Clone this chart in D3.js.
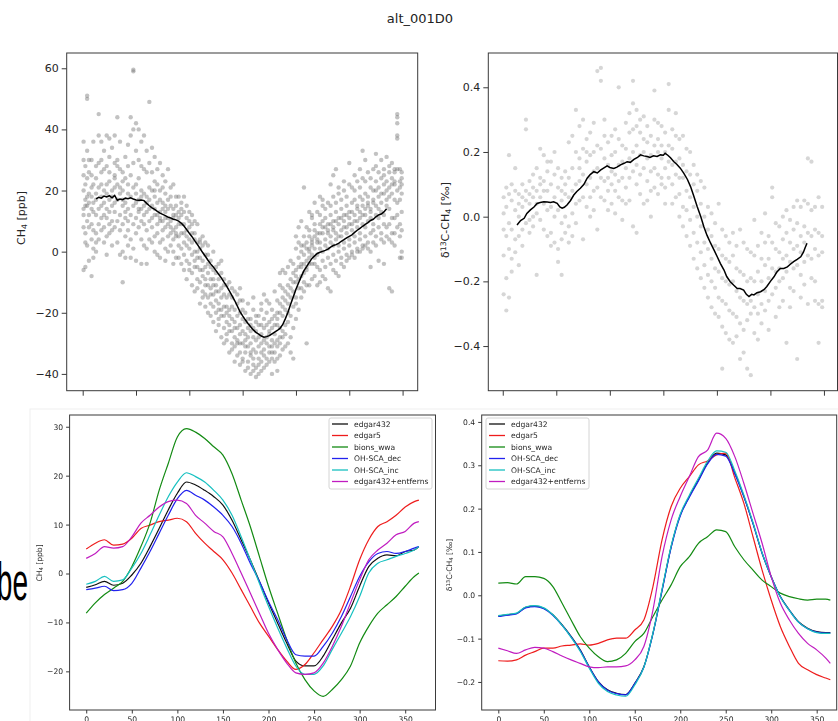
<!DOCTYPE html>
<html><head><meta charset="utf-8">
<script src="https://cdn.jsdelivr.net/npm/d3@7"></script>
<style>
body{margin:0;background:#fff}
svg{display:block}
text{font-family:"DejaVu Sans",sans-serif}
</style>
</head><body>
<svg id="chart" width="838" height="721"></svg>
<script>
// ---------- data ----------
const title = "alt_001D0";

// observed CH4 anomaly at the station: [day, value, value, ...]
const ch4Obs = [
[1,20,14,8,-6,30,36,25,12],[3,17,22,6,3,28,15,-5],[5,51,50,33,18,10,24,2,15],[7,30,26,12,8,-3,19,16],
[10,25,21,14,4,-8,30,18,9],[12,36,16,7,1,22,-2,13],[15,28,17,12,6,24,0,19,3],[18,45,38,21,14,9,29,4],
[21,36,30,18,11,22,15,7,26],[24,33,27,16,8,20,3,12],[27,38,28,19,11,14,22,5,-1],[30,31,23,17,9,13,6,26,37],
[33,34,20,15,7,18,10,2],[36,38,29,21,13,16,8,25,24],[39,44,30,22,17,10,3,28],[42,36,27,19,12,7,-1,21],
[45,26,20,15,9,0,-10,23,17],[48,31,24,16,11,5,-2,13],[51,35,28,19,14,10,2,22,7],[54,44,38,25,18,12,4,-2],
[57,59.5,59,40,29,21,15,9,1],[60,42,33,22,16,11,6,-3,19],[63,40,30,24,17,13,8,14],[66,36,28,20,14,10,4,-4,18],
[69,38,27,19,15,9,2,12],[72,33,26,18,13,7,1,-4,16],[75,49,29,21,14,10,4,17],[78,34,26,20,11,8,3,15],
[81,31,23,18,12,5,0,14,20],[84,27,22,16,9,6,-1,12],[87,29,20,13,10,3,-2,17,11],[90,25,21,14,7,4,10,16],
[93,23,19,11,8,1,13,15,-3],[96,27,17,14,9,5,11,0],[99,21,18,10,6,2,15,8],[102,22,14,11,4,0,12,7,-4],
[105,18,15,8,5,12,6,-2],[108,18,13,9,2,-2,11,5],[111,16,12,6,1,-4,9,14],[114,13,9,6,-1,-6,3,18],
[117,15,7,2,-3,-9,5,11],[120,10,8,1,-4,-6,4,13],[123,12,3,-1,-7,-11,6,9],[126,6,4,-3,-5,-13,0,10],
[129,9,0,-5,-9,-12,-2,3],[132,4,1,-6,-10,-17,3,-2],[135,2,-3,-6,-13,-15,5,-8],[138,3,-5,-9,-11,-18,-1,-14],
[141,-1,-4,-11,-15,-20,-7,2],[144,-3,-9,-12,-14,-21,-5,-17],[147,0,-6,-14,-18,-23,-9,-11],[150,-5,-11,-13,-20,-26,-7,-16],
[153,-4,-13,-17,-22,-24,-9,-19],[156,-7,-12,-19,-21,-28,-15,-3],[159,-9,-14,-21,-25,-30,-11,-18],[162,-11,-18,-20,-27,-29,-15,-23],
[165,-10,-19,-24,-26,-33,-14,-21],[168,-15,-18,-26,-30,-32,-22,-12],[171,-13,-23,-25,-31,-36,-19,-28],[174,-17,-21,-29,-30,-34,-25,-14],
[177,-16,-24,-27,-33,-37,-20,-30,-12],[180,-19,-22,-30,-35,-36,-26,-16],[183,-20,-27,-29,-33,-39,-23,-31],[186,-17,-25,-31,-36,-38,-28,-22],
[189,-22,-26,-30,-34,-40,-24,-33],[192,-19,-28,-32,-37,-39,-25,-35,-15],[195,-23,-26,-33,-38,-41,-29,-21],[198,-21,-28,-31,-35,-40,-24,-37],
[201,-24,-27,-30,-36,-39,-19,-33,-17],[204,-14,-25,-29,-34,-38,-22,-32],[207,-20,-24,-28,-35,-37,-30,-16],[210,-17,-23,-27,-31,-36,-26,-33],
[213,-19,-22,-29,-33,-35,-25,-31,-40],[216,-13,-21,-27,-30,-36,-24,-33],[219,-16,-20,-24,-29,-35,-22,-31,-39],[222,-11,-17,-25,-28,-34,-20,-30,-7],
[225,-12,-15,-21,-28,-32,-18,-26,-6],[228,-7,-13,-19,-27,-31,-16,-24],[231,-5,-11,-17,-23,-30,-14,-20],[234,-3,-9,-15,-21,-28,-12,-33],
[237,-4,-7,-13,-18,-25,-10,-35],[240,1,-6,-10,-17,-22,-8,-15,5],[243,3,-2,-9,-12,-19,-5,8],[246,2,0,-5,-12,-15,-4,-8,10],
[249,5,2,-4,-10,-13,-1,-7,21],[252,8,3,-3,-6,-11,1,-5,-30],[255,7,5,0,-4,-11,1,-2,13],[258,11,4,2,-4,-9,3,-1,12],
[261,9,7,1,-2,-8,5,-4,16],[264,13,6,4,-1,-5,3,-11],[267,12,9,3,1,-6,6,-10,18],[270,15,8,6,0,-3,10,-8,17],
[273,14,11,4,2,-5,8,-9],[276,16,9,7,1,-2,6,-12],[279,15,12,5,3,-4,9,-13,22],[282,18,10,8,2,-1,7,-6,25],
[285,16,13,6,4,-3,10,-7,27],[288,19,11,9,2,0,5,-8,21],[291,17,14,7,5,-2,11,-4],[294,20,12,10,3,1,8,-5,23],
[297,18,15,8,6,-1,12,-3],[300,29,13,11,4,2,9,-2,22],[303,21,16,9,7,0,13,-1],[306,20,17,12,5,3,10,-2,25],
[309,23,15,10,8,1,14,0],[312,21,18,13,6,4,11,0,27],[315,24,17,12,9,2,15,1,33],[318,23,19,14,8,5,12,2,30],
[321,26,18,15,10,3,16,1],[324,24,21,14,11,6,13,0,-5],[327,27,20,16,9,7,17,3],[330,28,23,15,12,5,20,2,32],
[333,26,21,18,11,8,14,-3],[336,30,24,16,13,6,19,4],[339,27,25,19,12,9,22,3,-4],[342,31,23,20,15,8,17,5],
[345,28,26,18,14,9,21,4,-12],[348,29,22,19,11,6,24,3,-13],[351,27,23,17,11,6,26,2,22],[354,45,44,42,38,37,27,20,16,12,8],
[357,27,23,21,17,9,5,-2],[359,26,24,22,19,13,7,0,-2]
];

// running mean of the CH4 observations: [day, value]
const ch4Mean = [
[15,17.3],[18,17.8],[21,17.5],[24,18.2],[27,17.9],[30,18.3],[33,17.6],[36,18.4],[39,16.8],[42,17.2],[45,17.0],[48,17.5],
[51,17.3],[54,17.6],[57,17.2],[60,16.9],[63,16.8],[66,16.9],[69,16.7],[72,15.8],[75,15.0],[78,14.3],[81,13.8],[84,13.2],
[87,12.6],[90,12.2],[93,11.8],[96,11.3],[99,11.0],[102,10.6],[105,10.4],[108,10.0],[111,9.3],[114,8.4],[117,7.2],[120,6.0],
[123,4.9],[126,3.6],[129,2.4],[132,1.1],[135,-0.3],[138,-1.5],[141,-2.8],[144,-4.0],[147,-5.0],[150,-6.2],[153,-7.4],[156,-8.6],
[159,-10.0],[162,-11.3],[165,-12.8],[168,-14.4],[171,-16.0],[174,-17.8],[177,-19.6],[180,-21.0],[183,-22.3],[186,-23.5],
[189,-24.6],[192,-25.6],[195,-26.4],[198,-27.0],[201,-27.6],[204,-28.0],[207,-27.8],[210,-27.5],[213,-26.9],[216,-26.3],
[219,-25.8],[222,-25.1],[225,-23.9],[228,-22.0],[231,-19.8],[234,-17.2],[237,-14.8],[240,-12.3],[243,-10.2],[246,-8.1],
[249,-6.2],[252,-4.9],[255,-3.5],[258,-2.2],[261,-1.4],[264,-0.6],[267,-0.2],[270,0.1],[273,0.4],[276,0.8],[279,1.5],
[282,2.0],[285,2.3],[288,2.7],[291,3.4],[294,3.9],[297,4.5],[300,5.0],[303,5.5],[306,6.3],[309,7.0],[312,7.6],[315,8.3],
[318,8.9],[321,9.5],[324,10.2],[327,10.6],[330,11.4],[333,12.0],[336,12.3],[339,13.0],[342,14.0]
];

// observed d13C-CH4 anomaly: [day, value, value, ...]
const d13Obs = [
[1,0.01,-0.04,-0.12,-0.24,0.06],[4,-0.29,-0.19,0.03,-0.06,0.09],[7,0.19,0.07,-0.02,-0.1,-0.25],[10,0.05,-0.04,-0.13,0.1,-0.17],
[14,0.15,0.02,-0.07,0.08,-0.11],[18,0.07,0.0,-0.06,-0.15,0.04],[22,0.1,0.03,-0.04,-0.09,0.06],[26,0.3,0.27,0.05,-0.02,0.08],
[30,0.11,0.04,-0.01,0.07,-0.05],[34,0.13,0.06,0.0,0.09,-0.03],[38,0.15,0.08,0.01,0.04,-0.18],[42,0.21,0.12,0.06,-0.01,0.1],
[46,0.19,0.11,0.04,-0.04,0.08],[50,0.14,0.08,0.02,-0.06,0.17],[54,0.17,0.1,0.03,-0.05,-0.09],[58,0.2,0.06,0.0,-0.08,0.13],
[62,0.15,0.09,0.02,-0.1,-0.14],[66,0.12,0.05,-0.02,-0.07,-0.18,0.08],[70,0.14,0.07,0.0,-0.05,0.1],[74,0.23,0.12,0.06,-0.03,-0.08],
[78,0.25,0.15,0.08,0.01,-0.06],[82,0.33,0.2,0.1,0.04,-0.02],[86,0.28,0.18,0.11,0.05,0.15],[90,0.3,0.21,0.13,0.06,-0.07],
[94,0.24,0.17,0.1,0.03,0.2],[98,0.26,0.19,0.12,0.06,0.0],[102,0.29,0.2,0.14,0.08,0.02],[106,0.45,0.22,0.15,0.09,-0.04],
[110,0.46,0.42,0.21,0.12,0.06],[114,0.3,0.25,0.18,0.11,0.05],[118,0.23,0.16,0.12,0.08,0.02],[122,0.25,0.19,0.14,0.1,0.04],
[126,0.27,0.2,0.13,0.08,0.01],[130,0.4,0.24,0.16,0.11,0.06],[134,0.22,0.17,0.12,0.05,-0.01],[138,0.29,0.21,0.15,0.09,0.04],
[142,0.32,0.26,0.18,0.12,0.05],[146,0.42,0.35,0.27,0.2,0.14,-0.03],[150,0.33,0.28,0.22,0.16,0.1,-0.05],[154,0.3,0.26,0.19,0.13,0.07],
[158,0.31,0.24,0.2,0.15,0.04],[162,0.28,0.23,0.18,0.11,0.05],[166,0.25,0.19,0.14,0.08,0.0],[170,0.39,0.3,0.22,0.15,0.09],
[174,0.29,0.24,0.2,0.13,0.07],[178,0.28,0.22,0.18,0.12,0.1],[182,0.26,0.2,0.15,0.09,0.04],[186,0.41,0.33,0.22,0.17,0.12],
[190,0.27,0.21,0.16,0.1,0.04],[194,0.32,0.25,0.17,0.13,0.06],[198,0.24,0.18,0.12,0.07,0.0],[202,0.25,0.16,0.12,0.03,-0.03],
[206,0.21,0.14,0.08,0.02,-0.06],[210,0.2,0.13,0.06,-0.01,-0.09],[214,0.16,0.1,0.03,-0.05,-0.13],[218,0.13,0.08,0.0,-0.08,-0.16],
[222,0.11,0.04,-0.03,-0.11,-0.19],[226,0.09,0.0,-0.08,-0.15,-0.22],[230,0.03,-0.04,-0.1,-0.18,-0.25],[234,0.01,-0.06,-0.13,-0.2,-0.28],
[238,-0.02,-0.09,-0.16,-0.22,-0.3],[242,0.04,-0.1,-0.17,-0.25,-0.31],[246,-0.04,-0.12,-0.19,-0.26,-0.34,-0.47],[250,-0.06,-0.13,-0.2,-0.27,-0.36],
[254,-0.08,-0.14,-0.21,-0.29,-0.38],[258,-0.05,-0.12,-0.2,-0.3,-0.39],[262,-0.09,-0.16,-0.23,-0.31,-0.37],[266,-0.04,-0.17,-0.25,-0.33,-0.44],
[270,-0.08,-0.18,-0.26,-0.35,-0.42],[274,-0.1,-0.2,-0.27,-0.32,-0.47],[278,-0.11,-0.19,-0.26,-0.3,-0.49],[282,-0.01,-0.12,-0.2,-0.28,-0.36],
[286,-0.09,-0.17,-0.24,-0.3,-0.38],[290,-0.05,-0.13,-0.2,-0.27,-0.33],[294,0.01,-0.08,-0.15,-0.23,-0.29],[298,-0.06,-0.13,-0.19,-0.26,-0.35],
[302,0.09,0.06,-0.08,-0.16,-0.24],[306,-0.02,-0.1,-0.17,-0.22,-0.31],[310,-0.03,-0.11,-0.16,-0.2,-0.28],[314,0.0,-0.07,-0.13,-0.19,-0.26],
[318,0.02,-0.05,-0.12,-0.17,-0.39],[322,-0.01,-0.08,-0.14,-0.22,-0.28],[326,0.03,-0.04,-0.1,-0.16,-0.23],[330,0.05,-0.02,-0.09,-0.15,-0.44],
[334,0.03,-0.06,-0.11,-0.18,-0.25],[338,0.05,-0.03,-0.08,-0.14,-0.21],[342,0.18,0.04,-0.05,-0.12,-0.27],[346,0.17,0.02,-0.06,-0.13,-0.19],
[350,0.03,-0.04,-0.1,-0.2,-0.26],[354,0.06,-0.05,-0.12,-0.27,-0.39],[358,0.03,-0.06,-0.11,-0.26,-0.28]
];

// running mean of the d13C observations: [day, value]
const d13Mean = [
[16,-0.026],[20,-0.012],[24,-0.005],[27,0.01],[31,0.021],[35,0.03],[38.5,0.041],[42,0.044],[46,0.046],[50,0.045],[53.5,0.044],
[57,0.046],[61,0.041],[64,0.03],[66.5,0.026],[69,0.029],[72,0.036],[76,0.05],[79.6,0.067],[83,0.078],[87,0.088],[91,0.1],
[94.6,0.119],[98,0.13],[102,0.139],[106,0.135],[109.5,0.144],[113,0.15],[117,0.157],[120,0.152],[124.5,0.149],[128,0.153],
[132,0.16],[136,0.165],[139.4,0.17],[143,0.168],[147,0.177],[151,0.183],[154.4,0.191],[158,0.188],[162,0.186],[165,0.183],
[169,0.188],[173,0.186],[176.8,0.191],[180,0.19],[182,0.196],[185,0.19],[188,0.182],[191.8,0.17],[195,0.162],[199,0.15],
[203,0.134],[207,0.115],[210.5,0.093],[214,0.065],[218,0.031],[222,0.0],[225.4,-0.031],[229,-0.058],[233,-0.082],[237,-0.104],
[240.4,-0.124],[244,-0.145],[248,-0.165],[251,-0.185],[255,-0.201],[259,-0.212],[262.8,-0.222],[266,-0.222],[270,-0.227],
[273,-0.24],[276,-0.247],[279,-0.24],[281.5,-0.242],[285,-0.235],[289,-0.232],[293,-0.225],[296,-0.216],[300,-0.2],[304,-0.186],
[307,-0.172],[311,-0.16],[315,-0.16],[319,-0.155],[322,-0.148],[326,-0.139],[330,-0.132],[334,-0.124],[337,-0.11],[339,-0.095],[341,-0.082]
];

// model runs, sampled every 10 days
const modelDays = [0,10,20,30,40,50,60,70,80,90,100,110,120,130,140,150,160,170,180,190,200,210,220,230,240,250,260,270,280,290,300,310,320,330,340,350,360,365];
const seriesNames = ["edgar432","edgar5","bions_wwa","OH-SCA_dec","OH-SCA_inc","edgar432+entferns"];
const seriesColors = ["#111111","#ee1c1c","#138a13","#2121ee","#16c0c0","#c01cc0"];

const ch4Model = [
  [-2.85,-2.3,-1.6,-2.4,-2.0,-0.3,2.1,5.5,9.2,13.0,16.4,18.7,18.1,17.0,15.7,14.0,10.9,6.9,2.8,-1.6,-6.0,-10.1,-14.2,-17.9,-18.9,-18.9,-16.9,-13.5,-10.1,-7.1,-2.6,1.4,3.1,3.8,3.6,4.5,4.8,5.5],
  [5.0,6.2,6.9,5.8,6.0,7.2,9.2,9.9,10.6,10.9,11.3,10.6,8.2,6.2,4.5,2.8,0.1,-3.3,-6.7,-10.1,-12.8,-15.5,-17.9,-19.6,-18.6,-16.2,-13.5,-10.8,-7.4,-2.6,2.8,6.9,9.6,10.6,11.9,13.6,14.7,15.0],
  [-8.1,-6.0,-4.3,-3.0,-1.6,1.4,5.5,10.3,17.0,22.5,27.9,29.6,28.9,27.6,25.9,24.2,20.4,15.0,9.6,3.5,-2.6,-8.1,-13.5,-18.3,-21.7,-24.0,-25.1,-23.7,-21.7,-18.9,-14.2,-10.8,-8.1,-6.4,-4.7,-2.6,-0.6,0.1],
  [-3.3,-3.0,-2.6,-3.5,-3.3,-2.0,1.1,4.5,8.2,11.9,15.3,17.0,16.0,15.0,13.6,11.9,9.6,6.2,2.1,-1.6,-5.7,-9.4,-13.5,-16.6,-16.9,-16.9,-14.9,-12.2,-8.8,-4.7,-0.6,2.4,4.1,4.5,4.1,4.5,5.2,5.5],
  [-2.2,-1.6,-0.6,-1.6,-1.3,1.1,4.1,7.9,11.9,15.7,18.7,20.6,19.8,18.7,17.0,15.0,11.9,7.5,2.8,-2.0,-6.7,-11.1,-15.2,-18.9,-20.6,-20.6,-18.9,-15.5,-12.2,-8.8,-4.7,0.1,2.1,2.8,3.5,4.1,4.8,5.5],
  [3.1,4.1,5.5,5.2,5.5,7.5,10.3,11.9,13.6,14.7,15.0,14.3,11.9,10.3,8.6,7.5,4.1,0.1,-4.0,-8.1,-12.2,-15.5,-18.3,-20.3,-20.6,-20.3,-18.3,-14.9,-10.8,-6.0,-1.3,2.8,4.8,6.2,7.9,8.6,10.3,10.6]
];

const d13Model = [
  [-0.048,-0.045,-0.042,-0.028,-0.025,-0.030,-0.045,-0.068,-0.095,-0.126,-0.165,-0.199,-0.218,-0.226,-0.229,-0.203,-0.165,-0.088,0.012,0.112,0.185,0.228,0.266,0.305,0.328,0.324,0.282,0.228,0.166,0.097,0.043,-0.003,-0.034,-0.061,-0.076,-0.084,-0.086,-0.086],
  [-0.151,-0.152,-0.149,-0.138,-0.130,-0.122,-0.122,-0.117,-0.115,-0.112,-0.115,-0.111,-0.103,-0.099,-0.099,-0.080,-0.057,0.020,0.128,0.205,0.247,0.274,0.301,0.310,0.324,0.328,0.271,0.212,0.135,0.058,-0.011,-0.072,-0.118,-0.157,-0.172,-0.183,-0.191,-0.195],
  [0.028,0.029,0.026,0.043,0.043,0.039,0.020,-0.018,-0.057,-0.095,-0.122,-0.142,-0.153,-0.149,-0.134,-0.107,-0.088,-0.049,-0.011,0.024,0.066,0.089,0.120,0.135,0.151,0.147,0.112,0.082,0.058,0.035,0.020,0.005,-0.003,-0.008,-0.011,-0.009,-0.009,-0.011],
  [-0.049,-0.046,-0.043,-0.029,-0.026,-0.031,-0.046,-0.069,-0.096,-0.127,-0.166,-0.200,-0.219,-0.227,-0.230,-0.204,-0.166,-0.089,0.010,0.110,0.183,0.226,0.264,0.303,0.325,0.321,0.280,0.227,0.165,0.097,0.043,-0.003,-0.035,-0.062,-0.077,-0.085,-0.087,-0.087],
  [-0.047,-0.044,-0.041,-0.027,-0.024,-0.029,-0.045,-0.069,-0.097,-0.129,-0.168,-0.203,-0.222,-0.230,-0.233,-0.207,-0.166,-0.087,0.014,0.114,0.187,0.231,0.270,0.309,0.333,0.330,0.287,0.231,0.168,0.098,0.043,-0.004,-0.035,-0.062,-0.077,-0.086,-0.088,-0.088],
  [-0.122,-0.128,-0.134,-0.126,-0.120,-0.122,-0.130,-0.140,-0.149,-0.157,-0.165,-0.167,-0.165,-0.165,-0.163,-0.149,-0.118,-0.034,0.089,0.174,0.228,0.274,0.320,0.335,0.374,0.362,0.320,0.258,0.189,0.120,0.043,-0.018,-0.057,-0.088,-0.111,-0.126,-0.145,-0.157]
];

const topXTicks = [0,60,120,180,240,300,360];
const ch4TopTicks = [-40,-20,0,20,40,60];
const d13TopTicks = [-0.4,-0.2,0.0,0.2,0.4];
const bottomXTicks = [0,50,100,150,200,250,300,350];
const ch4BottomTicks = [-20,-10,0,10,20,30];
const d13BottomTicks = [-0.2,-0.1,0.0,0.1,0.2,0.3,0.4];

// ---------- drawing ----------
const svg = d3.select("#chart");
const minus = s => s.replace(/-/g, "\u2212");

// slide text partly hidden behind the model figure
svg.append("g").attr("transform", "translate(28,600) scale(0.52,1)")
  .append("text").attr("x", 0).attr("y", 0).attr("text-anchor", "end")
  .style("font-family", "'Liberation Sans', Arial, sans-serif").style("font-size", "54px").attr("fill", "#000").text("be");

svg.append("text").attr("x", 420).attr("y", 23).attr("text-anchor", "middle")
  .style("font-size", "13px").attr("fill", "#222").text(title);

function frame(g, x, y) {
  const [x0, x1] = x.range(), [y0, y1] = y.range();
  g.append("rect").attr("x", x0).attr("y", y1).attr("width", x1 - x0).attr("height", y0 - y1)
    .attr("fill", "none").attr("stroke", "#3a3a3a").attr("stroke-width", 1);
}

function yLabel(g, cx, cy, size, parts) {
  const t = g.append("text").attr("transform", `translate(${cx},${cy}) rotate(-90)`)
    .attr("text-anchor", "middle").style("font-size", size + "px").attr("fill", "#262626");
  parts.forEach(p => {
    const s = t.append("tspan").text(p[0]);
    if (p[1] === "sub") s.attr("baseline-shift", "-20%").style("font-size", (size * 0.7) + "px");
    if (p[1] === "sup") s.attr("baseline-shift", "40%").style("font-size", (size * 0.7) + "px");
  });
}

function axes(g, x, y, xt, yt, fmt, opt) {
  const ax = d3.axisBottom(x).tickValues(xt).tickSize(opt.tick).tickPadding(opt.pad)
    .tickFormat(opt.xlabels ? d => d : () => "");
  const xa = g.append("g").attr("transform", `translate(0,${y.range()[0]})`).call(ax);
  const ay = d3.axisLeft(y).tickValues(yt).tickSize(opt.tick).tickPadding(opt.pad).tickFormat(d => minus(fmt(d)));
  const ya = g.append("g").attr("transform", `translate(${x.range()[0]},0)`).call(ay);
  [xa, ya].forEach(a => {
    a.select(".domain").remove();
    a.selectAll(".tick line").attr("stroke", "#3a3a3a");
    a.selectAll(".tick text").style("font-size", opt.font + "px").attr("fill", "#262626")
      .style("font-family", "'DejaVu Sans',sans-serif");
  });
}

// top-left: CH4 observations
{
  const g = svg.append("g");
  const x = d3.scaleLinear([-18, 377], [66.7, 417.7]);
  const y = d3.scaleLinear([-45.5, 65], [390.7, 53]);
  const pts = ch4Obs.flatMap(c => c.slice(1).map(v => [c[0], v]));
  g.append("g").selectAll("circle").data(pts).join("circle")
    .attr("cx", d => x(d[0])).attr("cy", d => y(d[1])).attr("r", 2.2)
    .attr("fill", "#6e6e6e").attr("fill-opacity", 0.42);
  g.append("path").datum(ch4Mean).attr("fill", "none").attr("stroke", "#000").attr("stroke-width", 1.5)
    .attr("d", d3.line(d => x(d[0]), d => y(d[1])));
  frame(g, x, y);
  axes(g, x, y, topXTicks, ch4TopTicks, d3.format("d"), {tick: 5, pad: 3, font: 11, xlabels: false});
  yLabel(g, 25, 218, 11, [["CH"], ["4", "sub"], [" [ppb]"]]);
}

// top-right: d13C observations
{
  const g = svg.append("g");
  const x = d3.scaleLinear([-16.2, 375.2], [488.3, 837.5]);
  const y = d3.scaleLinear([-0.538, 0.506], [390.7, 53]);
  const pts = d13Obs.flatMap(c => c.slice(1).map(v => [c[0], v]));
  g.append("g").selectAll("circle").data(pts).join("circle")
    .attr("cx", d => x(d[0])).attr("cy", d => y(d[1])).attr("r", 2.1)
    .attr("fill", "#8a8a8a").attr("fill-opacity", 0.35);
  g.append("path").datum(d13Mean).attr("fill", "none").attr("stroke", "#000").attr("stroke-width", 1.5)
    .attr("d", d3.line(d => x(d[0]), d => y(d[1])));
  frame(g, x, y);
  axes(g, x, y, topXTicks, d13TopTicks, d3.format(".1f"), {tick: 5, pad: 3, font: 11, xlabels: false});
  yLabel(g, 449, 220, 11, [["\u03b4"], ["13", "sup"], ["C-CH"], ["4", "sub"], [" [\u2030]"]]);
}

// bottom: model comparison figure
const defs = svg.append("defs");
defs.append("filter").attr("id", "soft").append("feGaussianBlur").attr("stdDeviation", 0.45);
const bottom = svg.append("g");
bottom.append("rect").attr("x", 30).attr("y", 409).attr("width", 820).attr("height", 320)
  .attr("fill", "#fff").attr("stroke", "#efefef");
const bg = bottom.append("g").attr("filter", "url(#soft)");

function legend(g, x0, y0, w) {
  g.append("rect").attr("x", x0).attr("y", y0).attr("width", w).attr("height", 71).attr("rx", 2)
    .attr("fill", "#fff").attr("fill-opacity", 0.85).attr("stroke", "#d4d4d4");
  seriesNames.forEach((n, i) => {
    const yy = y0 + 6 + i * 11.5;
    g.append("line").attr("x1", x0 + 3).attr("x2", x0 + 19).attr("y1", yy).attr("y2", yy)
      .attr("stroke", seriesColors[i]).attr("stroke-width", 1.3);
    g.append("text").attr("x", x0 + 25).attr("y", yy + 2.8).style("font-size", "7.6px")
      .attr("fill", "#262626").text(n);
  });
}

function modelPanel(x, y, data, yt, fmt, label, lx, ly, legX, legW) {
  const g = bg.append("g");
  const clipId = "clip" + Math.round(x.range()[0]);
  g.append("clipPath").attr("id", clipId).append("rect")
    .attr("x", x.range()[0]).attr("y", y.range()[1]).attr("width", x.range()[1] - x.range()[0]).attr("height", y.range()[0] - y.range()[1]);
  const lines = g.append("g").attr("clip-path", `url(#${clipId})`);
  data.forEach((vals, i) => {
    lines.append("path").datum(vals.map((v, j) => [modelDays[j], v]))
      .attr("fill", "none").attr("stroke", seriesColors[i]).attr("stroke-width", 1.2)
      .attr("d", d3.line(d => x(d[0]), d => y(d[1])).curve(d3.curveMonotoneX));
  });
  frame(g, x, y);
  axes(g, x, y, bottomXTicks, yt, fmt, {tick: 3.5, pad: 3, font: 7.6, xlabels: true});
  yLabel(g, lx, ly, 7.6, label);
  legend(g, legX, 418, legW);
}

modelPanel(d3.scaleLinear([-18.25, 383.25], [69.6, 435.5]), d3.scaleLinear([-27.9, 32.4], [710, 415]),
  ch4Model, ch4BottomTicks, d3.format("d"), [["CH"], ["4", "sub"], [" [ppb]"]], 42, 563, 329, 103);
modelPanel(d3.scaleLinear([-18.25, 372], [481.7, 836.7]), d3.scaleLinear([-0.2647, 0.416], [710, 415]),
  d13Model, d13BottomTicks, d3.format(".1f"), [["\u03b4"], ["13", "sup"], ["C-CH"], ["4", "sub"], [" [\u2030]"]], 452, 565, 486, 103);
</script>
</body></html>
